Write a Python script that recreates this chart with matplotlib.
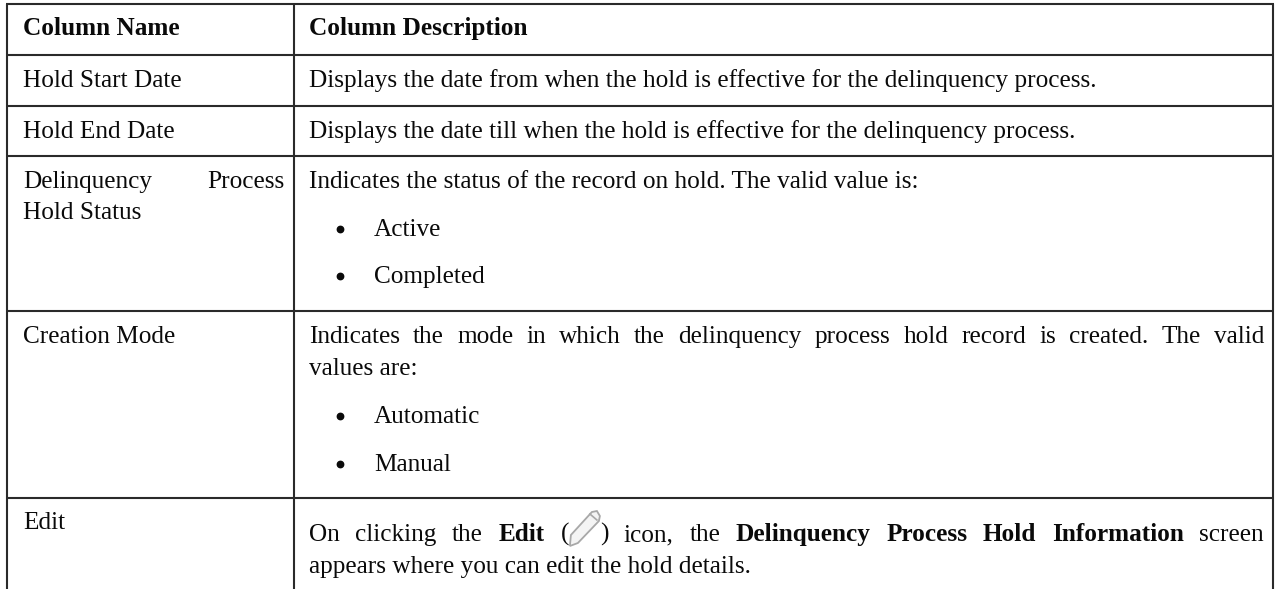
import matplotlib
matplotlib.use('Agg')
import matplotlib.pyplot as plt
from matplotlib.patches import Polygon

plt.rcParams['font.family'] = ['Liberation Serif', 'DejaVu Serif']

# Table text, (word, bold) for the justified lines
header_names = ['Column Name', 'Column Description']
simple_names = ['Hold Start Date', 'Hold End Date', 'Hold Status', 'Creation Mode', 'Edit']
descriptions = ['Displays the date from when the hold is effective for the delinquency process.',
                'Displays the date till when the hold is effective for the delinquency process.',
                'Indicates the status of the record on hold. The valid value is:',
                'values are:',
                'appears where you can edit the hold details.']
bullets = ['Active', 'Completed', 'Automatic', 'Manual']
justified_name = 'Delinquency Process'
justified_mode = 'Indicates the mode in which the delinquency process hold record is created. The valid'
edit_line = [('On', False), ('clicking', False), ('the', False), ('Edit', True), ('(', False), ('ICON', False),
             (')', False), ('icon,', False), ('the', False), ('Delinquency', True), ('Process', True),
             ('Hold', True), ('Information', True), ('screen', False)]

# Grid positions in pixels
row_lines = [4, 55, 106, 156, 311, 498]
col_lines = [7, 294, 1273]
name_y = [87, 138, 219, 343, 529]
desc_y = [87, 138, 188, 375, 573]
bullet_y = [236, 283, 423, 471]

font_size = 18.2
line_color = '#2a2a2a'

fig = plt.figure(figsize=(12.77, 5.89), dpi=100)
ax = fig.add_axes([0, 0, 1, 1])
ax.set_xlim(0, 1277)
ax.set_ylim(589, 0)
ax.axis('off')


def put(x, y, s, bold=False):
    return ax.text(x, y, s, fontsize=font_size, color='#0a0a0a', va='baseline', ha='left',
                   fontweight='bold' if bold else 'normal')


# Write words one by one so the line fills the width from x0 to x1
def justify(words, x0, x1, y, icon_width=31):
    renderer = fig.canvas.get_renderer()
    items = []
    total = 0
    for word, bold in words:
        if word == 'ICON':
            items.append((None, icon_width))
            total += icon_width
            continue
        t = put(0, y, word, bold)
        w = t.get_window_extent(renderer).width
        t.remove()
        items.append((t, w))
        total += w
    # brackets hug the icon, so those joins get no gap
    glued = [w[0] in ('(', 'ICON') for w in words[:-1]]
    gap = (x1 - x0 - total) / (len(glued) - sum(glued))
    x = x0
    icon_x = None
    for i, (word, bold) in enumerate(words):
        if word == 'ICON':
            icon_x = x
        else:
            put(x, y, word, bold)
        x += items[i][1]
        if i < len(glued) and not glued[i]:
            x += gap
    return icon_x


for y in row_lines:
    ax.plot([col_lines[0] - 1, col_lines[-1] + 1], [y, y], color=line_color, lw=1.5, solid_capstyle='butt')
for x in col_lines:
    ax.plot([x, x], [row_lines[0], 589], color=line_color, lw=1.5, solid_capstyle='butt')

put(23, 35, header_names[0], True)
put(309, 35, header_names[1], True)

for name, y in zip(simple_names, name_y):
    put(23, y, name)
justify([(w, False) for w in justified_name.split()], 23, 284, 188)

for text, y in zip(descriptions, desc_y):
    put(309, y, text)
justify([(w, False) for w in justified_mode.split()], 309, 1264, 343)

for label, y in zip(bullets, bullet_y):
    ax.plot([340], [y - 7], 'o', color='#0a0a0a', ms=4.6)
    put(374, y, label)

icon_x = justify(edit_line, 309, 1264, 541)

# Pencil icon, relative to the gap left in the line
pencil = [(1, 36), (2, 25), (23, 2), (28, 1), (31, 6), (30, 11), (9, 33)]
ax.add_patch(Polygon([(icon_x + px, 510 + py) for px, py in pencil], closed=True,
                     facecolor='#f4f4f4', edgecolor='#a8a8a8', lw=1.3))
ax.plot([icon_x + 21, icon_x + 28], [510 + 4, 510 + 10], color='#a8a8a8', lw=1.2)

fig.savefig('out.png', dpi=100)
